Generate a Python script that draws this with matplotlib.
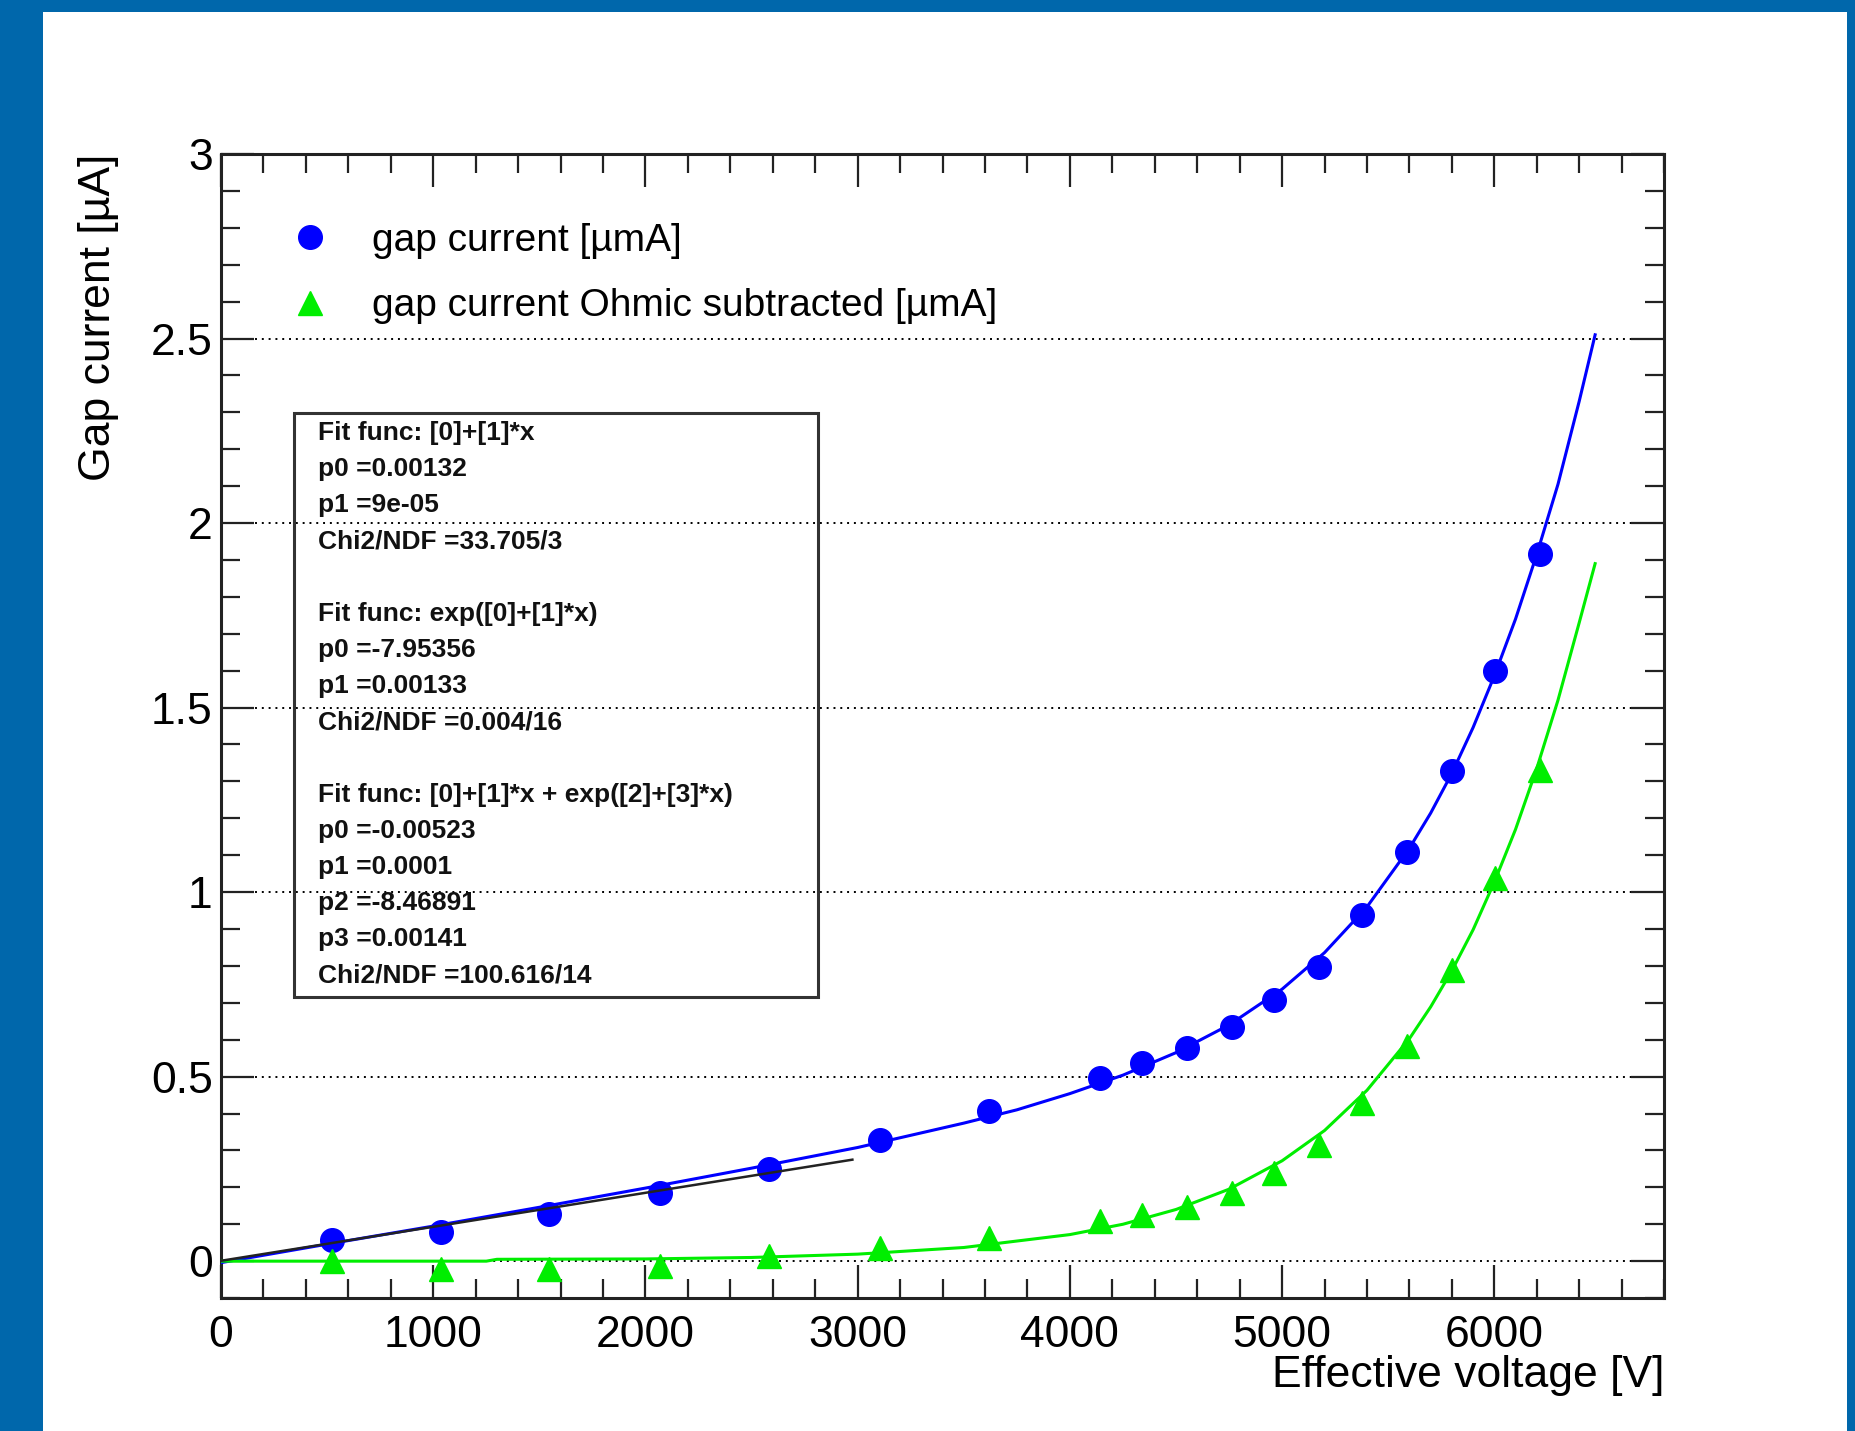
import matplotlib.pyplot as plt
from matplotlib.patches import Rectangle
from matplotlib.ticker import MultipleLocator, FormatStrFormatter

plt.rcParams['font.family'] = ['Liberation Sans', 'DejaVu Sans']

# measured points
voltage = [524, 1037, 1545, 2069, 2582, 3106, 3620, 4144, 4339, 4551,
           4763, 4964, 5176, 5376, 5588, 5800, 6001, 6213]
gap_current = [0.058, 0.080, 0.128, 0.186, 0.250, 0.327, 0.407, 0.497, 0.538, 0.577,
               0.635, 0.708, 0.798, 0.939, 1.109, 1.327, 1.599, 1.917]
gap_current_sub = [0.000, -0.020, -0.020, -0.013, 0.013, 0.035, 0.064, 0.109, 0.125, 0.147,
                   0.186, 0.240, 0.314, 0.429, 0.583, 0.788, 1.038, 1.330]

# fit curves
fit_x = [0, 500, 1000, 1500, 2000, 2500, 3000, 3500, 3750, 4000, 4250, 4500,
         4750, 5000, 5200, 5400, 5600, 5700, 5800, 5900, 6000, 6100, 6200,
         6300, 6400, 6475]
fit_total = [-0.004, 0.046, 0.095, 0.146, 0.198, 0.252, 0.308, 0.374, 0.410, 0.454,
             0.504, 0.565, 0.640, 0.737, 0.836, 0.960, 1.119, 1.214, 1.322, 1.446,
             1.586, 1.740, 1.915, 2.105, 2.330, 2.51]
fit_sub_x = [0, 1250, 1300, 2000, 2500, 3000, 3500, 4000, 4250, 4500,
             4750, 5000, 5200, 5400, 5600, 5700, 5800, 5900, 6000, 6100,
             6200, 6300, 6400, 6475]
fit_sub = [0.0, 0.0, 0.005, 0.006, 0.010, 0.019, 0.037, 0.072, 0.100, 0.140,
           0.195, 0.272, 0.354, 0.463, 0.603, 0.689, 0.787, 0.898, 1.027, 1.170,
           1.335, 1.520, 1.730, 1.89]
lin_x = [0, 2975]
lin_y = [0.001, 0.275]

fit_lines = [
    "Fit func: [0]+[1]*x",
    "p0 =0.00132",
    "p1 =9e-05",
    "Chi2/NDF =33.705/3",
    "",
    "Fit func: exp([0]+[1]*x)",
    "p0 =-7.95356",
    "p1 =0.00133",
    "Chi2/NDF =0.004/16",
    "",
    "Fit func: [0]+[1]*x + exp([2]+[3]*x)",
    "p0 =-0.00523",
    "p1 =0.0001",
    "p2 =-8.46891",
    "p3 =0.00141",
    "Chi2/NDF =100.616/14",
]

fig = plt.figure(figsize=(18.56, 14.31), dpi=100)
fig.patch.set_facecolor('#0067AB')
fig.patches.append(Rectangle((43 / 1856, 0), (1847 - 43) / 1856, (1431 - 12) / 1431,
                             transform=fig.transFigure, facecolor='white',
                             edgecolor='none', zorder=-5))

ax = fig.add_axes([0.1191, 0.0929, 0.7775, 0.7995])
ax.patch.set_alpha(0)
ax.set_xlim(0, 6800)
ax.set_ylim(-0.1, 3)

ax.yaxis.grid(True, color='black', linestyle=(0, (1, 2.5)), linewidth=1.4)
ax.set_axisbelow(True)

ax.plot(voltage, gap_current, 'o', color='blue', markersize=17, zorder=3,
        label='gap current [µmA]')
ax.plot(voltage, gap_current_sub, '^', color='#00ee00', markersize=17, zorder=3,
        label='gap current Ohmic subtracted [µmA]')
ax.plot(fit_x, fit_total, color='blue', linewidth=2.2, zorder=4)
ax.plot(fit_sub_x, fit_sub, color='#00ee00', linewidth=2.2, zorder=4)
ax.plot(lin_x, lin_y, color='#222222', linewidth=1.8, zorder=5)

ax.xaxis.set_major_locator(MultipleLocator(1000))
ax.xaxis.set_minor_locator(MultipleLocator(200))
ax.yaxis.set_major_locator(MultipleLocator(0.5))
ax.yaxis.set_minor_locator(MultipleLocator(0.1))
ax.yaxis.set_major_formatter(FormatStrFormatter('%g'))
ax.tick_params(which='both', direction='in', top=True, right=True, width=1.6, colors='#222222')
ax.tick_params(which='major', length=24, labelsize=32, labelcolor='black')
ax.tick_params(which='minor', length=14)
ax.tick_params(axis='x', which='major', pad=12)
ax.tick_params(axis='y', which='major', pad=6)
for s in ax.spines.values():
    s.set_linewidth(2.2)
    s.set_color('#222222')

ax.set_xlabel('Effective voltage [V]', fontsize=32, loc='right')
ax.xaxis.set_label_coords(1.0, -0.05)
ax.set_ylabel('Gap current [µA]', fontsize=32, loc='top')
ax.yaxis.set_label_coords(-0.071, 1.0)

ax.legend(loc='upper left', bbox_to_anchor=(0.048, 0.94), frameon=False, fontsize=28,
          handlelength=1.0, handletextpad=1.1, labelspacing=0.76, borderpad=0,
          borderaxespad=0, numpoints=1)

ax.add_patch(Rectangle((0.0506, 0.2631), 0.4137 - 0.0506, 0.7736 - 0.2631,
                       transform=ax.transAxes, fill=False, edgecolor='#333333',
                       linewidth=2.2, zorder=6))
for i, line in enumerate(fit_lines):
    ax.text(0.0672, 0.756 - i * 0.0316, line, transform=ax.transAxes, fontsize=19,
            fontweight='bold', va='center', ha='left', color='#111111', zorder=7)

fig.savefig('out.png', dpi=100, facecolor=fig.get_facecolor())
